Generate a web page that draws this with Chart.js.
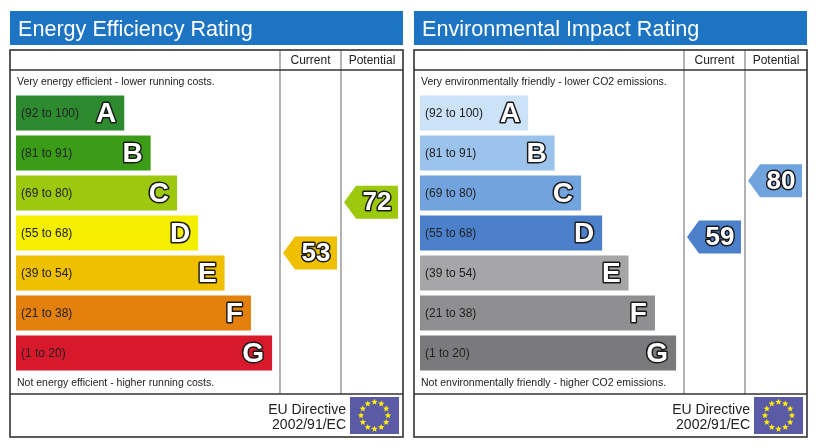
<!DOCTYPE html>
<html><head><meta charset="utf-8">
<script src="https://cdn.jsdelivr.net/npm/chart.js@4.4.1/dist/chart.umd.min.js"></script>
<style>
html,body{margin:0;padding:0;background:#fff;width:816px;height:448px;overflow:hidden}
canvas{position:absolute;top:0}
#c1{left:0}
#c2{left:404px}
</style></head>
<body>
<canvas id="c1" width="408" height="448"></canvas>
<canvas id="c2" width="408" height="448"></canvas>
<script>
// ---- data ----
const bands = ['A','B','C','D','E','F','G'];
const bandRanges = ['(92 to 100)','(81 to 91)','(69 to 80)','(55 to 68)','(39 to 54)','(21 to 38)','(1 to 20)'];
const bandMin = [92,81,69,55,39,21,1];
const barLengths = [41,51,61,69,79,89,97];
const energyColors = ['#2d8a2f','#3b9c17','#9cc80e','#f4ee00','#efc000','#e4800d','#d8182b'];
const envColors = ['#cce2f7','#9cc3ec','#71a3df','#4c80cb','#a6a6a8','#8f8f91','#7a7a7c'];
const energyScores = {current:53, potential:72};
const envScores = {current:59, potential:80};
const columnHeaders = ['Current','Potential'];
const energyTitle = 'Energy Efficiency Rating';
const envTitle = 'Environmental Impact Rating';
const energyTop = 'Very energy efficient - lower running costs.';
const energyBottom = 'Not energy efficient - higher running costs.';
const envTop = 'Very environmentally friendly - lower CO2 emissions.';
const envBottom = 'Not environmentally friendly - higher CO2 emissions.';
const directive = ['EU Directive','2002/91/EC'];

const FONT = '"Liberation Sans", Arial, Helvetica, sans-serif';

function bandIndex(score){ for(let i=0;i<bandMin.length;i++){ if(score>=bandMin[i]) return i; } return bandMin.length-1; }

function star(ctx,cx,cy,r){
  ctx.beginPath();
  for(let i=0;i<10;i++){
    const a=-Math.PI/2+i*Math.PI/5, rr=(i%2)?r*0.45:r;
    ctx.lineTo(cx+rr*Math.cos(a), cy+rr*Math.sin(a));
  }
  ctx.closePath(); ctx.fill();
}

function outlinedText(ctx, txt, x, y, size, align){
  ctx.font = 'bold '+size+'px '+FONT;
  ctx.textAlign = align; ctx.textBaseline = 'middle';
  ctx.lineJoin = 'round';
  ctx.lineWidth = 3; ctx.strokeStyle = '#1a1a1a';
  ctx.strokeText(txt, x, y);
  ctx.fillStyle = '#ffffff';
  ctx.fillText(txt, x, y);
}

function makePanel(id, title, topText, bottomText, colors, scores){
  const L = {boxL:10, boxT:50, boxR:403, boxB:437, hdrT:11, hdrB:45, rowLine:70, footLine:394, col1:280, col2:341};
  const framePlugin = {
    id:'frame'+id,
    beforeDatasetsDraw(chart){
      const ctx = chart.ctx;
      ctx.save();
      // blue title bar
      ctx.fillStyle = '#1c74c3';
      ctx.fillRect(L.boxL, L.hdrT, L.boxR-L.boxL, L.hdrB-L.hdrT);
      ctx.fillStyle = '#ffffff';
      ctx.font = '21.6px '+FONT; ctx.textAlign='left'; ctx.textBaseline='alphabetic';
      ctx.fillText(title, L.boxL+8, 36);
      // column lines
      ctx.strokeStyle = '#8a8a8a'; ctx.lineWidth = 1.3;
      ctx.beginPath();
      ctx.moveTo(L.col1, L.boxT); ctx.lineTo(L.col1, L.footLine);
      ctx.moveTo(L.col2, L.boxT); ctx.lineTo(L.col2, L.footLine);
      ctx.stroke();
      // box & horizontal lines
      ctx.strokeStyle = '#333333'; ctx.lineWidth = 1.6;
      ctx.strokeRect(L.boxL, L.boxT, L.boxR-L.boxL, L.boxB-L.boxT);
      ctx.beginPath();
      ctx.moveTo(L.boxL, L.rowLine); ctx.lineTo(L.boxR, L.rowLine);
      ctx.moveTo(L.boxL, L.footLine); ctx.lineTo(L.boxR, L.footLine);
      ctx.stroke();
      // column headers
      ctx.fillStyle = '#222'; ctx.font = '12px '+FONT; ctx.textAlign='center'; ctx.textBaseline='middle';
      ctx.fillText(columnHeaders[0], (L.col1+L.col2)/2, 60.5);
      ctx.fillText(columnHeaders[1], (L.col2+L.boxR)/2, 60.5);
      // top / bottom text
      ctx.font = '10.5px '+FONT; ctx.textAlign='left';
      ctx.fillText(topText, L.boxL+7, 82);
      ctx.fillText(bottomText, L.boxL+7, 383);
      // EU directive
      ctx.font = '14px '+FONT; ctx.textAlign='right'; ctx.textBaseline='alphabetic';
      ctx.fillText(directive[0], 346, 413.5);
      ctx.fillText(directive[1], 346, 429);
      // flag
      ctx.fillStyle = '#5b5aa7';
      ctx.fillRect(350, 397, 49, 37);
      ctx.fillStyle = '#ffee00';
      for(let i=0;i<12;i++){
        const a = i*Math.PI/6;
        star(ctx, 374.5+13.5*Math.cos(a), 415.5+13.5*Math.sin(a), 3.3);
      }
      ctx.restore();
    },
    afterDatasetsDraw(chart){
      const ctx = chart.ctx;
      const meta = chart.getDatasetMeta(0);
      ctx.save();
      meta.data.forEach((bar,i)=>{
        ctx.fillStyle = '#222'; ctx.font = '12px '+FONT; ctx.textAlign='left'; ctx.textBaseline='middle';
        ctx.fillText(bandRanges[i], bar.base+5, bar.y+1);
        outlinedText(ctx, bands[i], bar.x-8, bar.y+1, 28, 'right');
      });
      // arrows
      const sc = chart.scales.score;
      const drawArrow = (score, xl, xr)=>{
        const yc = sc.getPixelForValue(score), h = 33, tip = 12;
        ctx.fillStyle = colors[bandIndex(score)];
        ctx.beginPath();
        ctx.moveTo(xl, yc);
        ctx.lineTo(xl+tip, yc-h/2);
        ctx.lineTo(xr, yc-h/2);
        ctx.lineTo(xr, yc+h/2);
        ctx.lineTo(xl+tip, yc+h/2);
        ctx.closePath(); ctx.fill();
        outlinedText(ctx, String(score), (xl+tip+xr)/2, yc+1, 26, 'center');
      };
      drawArrow(scores.current, L.col1+3, L.col2-4);
      drawArrow(scores.potential, L.col2+3, L.boxR-5);
      ctx.restore();
    }
  };

  return new Chart(document.getElementById(id), {
    type:'bar',
    data:{
      labels: bands,
      datasets:[{
        data: barLengths,
        backgroundColor: colors,
        borderWidth: 0,
        categoryPercentage: 1,
        barPercentage: 0.875
      }]
    },
    options:{
      indexAxis:'y',
      responsive:false,
      animation:false,
      devicePixelRatio: window.devicePixelRatio || 1,
      layout:{padding:{left:16, right:128, top:93, bottom:75}},
      plugins:{legend:{display:false}, tooltip:{enabled:false}},
      scales:{
        x:{type:'linear', min:0, max:100, display:false},
        y:{type:'category', display:false},
        score:{type:'linear', axis:'y', min:13, max:108, display:false}
      }
    },
    plugins:[framePlugin]
  });
}

makePanel('c1', energyTitle, energyTop, energyBottom, energyColors, energyScores);
makePanel('c2', envTitle, envTop, envBottom, envColors, envScores);
</script>
</body></html>
